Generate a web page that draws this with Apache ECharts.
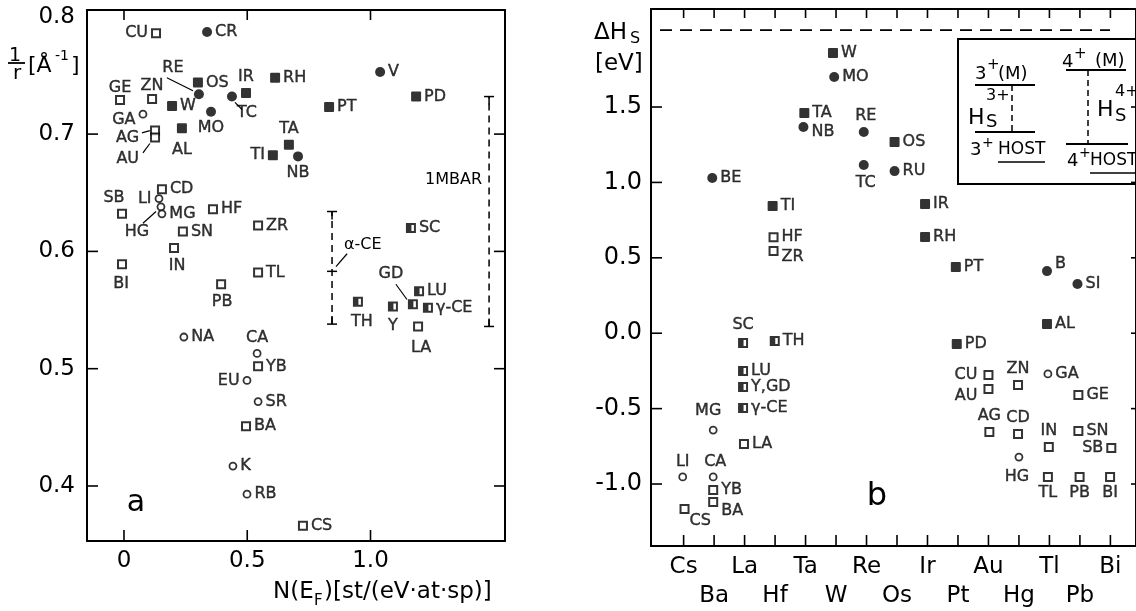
<!DOCTYPE html>
<html>
<head>
<meta charset="utf-8">
<script src="https://cdn.jsdelivr.net/npm/echarts@6.0.0/dist/echarts.min.js"></script>
<style>
  html, body { margin: 0; background: #fff; }
  #main { width: 1136px; height: 611px; }
</style>
</head>
<body>
<div id="main"></div>
<script>
// ---- panel a : 1/r versus N(E_F) ----
const aNames = ['CU','CR','RE','OS','IR','TC','W','MO','AL','GE','ZN','GA','AG','AU','TI','RH','V','PD','PT','TA','NB',
  'CD','LI','HG','MG','SB','HF','SN','ZR','IN','BI','TL','PB','NA','CA','YB','EU','SR','BA','K','RB','CS',
  'SC','GD','LU','γ-CE','Y','TH','LA'];
const aNEF = [0.130,0.337,0.304,0.300,0.495,0.438,0.195,0.353,0.235,-0.016,0.114,0.077,0.126,0.126,0.604,0.613,1.039,1.185,0.832,0.669,0.706,
  0.154,0.142,0.150,0.154,-0.008,0.361,0.239,0.544,0.203,-0.008,0.544,0.394,0.243,0.540,0.544,0.499,0.544,0.495,0.442,0.499,0.726,
  1.164,1.172,1.197,1.233,1.091,0.949,1.193];
const aInvR = [0.786,0.787,0.734,0.744,0.735,0.732,0.724,0.719,0.705,0.729,0.730,0.717,0.703,0.697,0.682,0.748,0.753,0.732,0.723,0.691,0.681,
  0.653,0.645,0.638,0.632,0.632,0.636,0.617,0.622,0.603,0.589,0.582,0.572,0.527,0.513,0.502,0.490,0.472,0.451,0.417,0.393,0.366,
  0.620,0.555,0.566,0.552,0.553,0.557,0.536];
// fs filled square, os open square, fc filled circle, oc open circle, hs half filled square
const aKind = ['os','fc','fc','fs','fs','fc','fs','fc','fs','os','os','oc','os','os','fs','fs','fc','fs','fs','fs','fc',
  'os','oc','oc','oc','os','os','os','os','os','os','os','os','oc','oc','os','oc','oc','os','oc','oc','os',
  'hs','hs','hs','hs','hs','hs','os'];
const aXTicks = [0, 0.5, 1.0];
const aYTicks = [0.4, 0.5, 0.6, 0.7, 0.8];
const aYTickMarks = [0.4, 0.5, 0.6, 0.7];
// pressure ranges (1/r values)
const alphaCeN = 0.844;
const alphaCeRange = [0.538, 0.583, 0.634];
const mbarN = 1.481;
const mbarRange = [0.536, 0.732];

// ---- panel b : ΔH_S by host element ----
const bElements = ['Cs','Ba','La','Hf','Ta','W','Re','Os','Ir','Pt','Au','Hg','Tl','Pb','Bi'];
const bNames = ['W','MO','TA','NB','BE','TI','RE','OS','TC','RU','IR','RH','PT','PD','B','SI','AL',
  'HF','ZR','SC','TH','LU','Y,GD','γ-CE','MG','LA','LI','CA','YB','BA','CS',
  'CU','AU','ZN','GA','GE','AG','CD','HG','IN','SN','SB','TL','PB','BI'];
const bColumn = [4.90,4.94,3.96,3.93,0.94,2.92,5.91,6.92,5.91,6.92,7.92,7.92,8.93,8.96,11.92,12.92,11.92,
  2.95,2.95,1.95,2.99,1.95,1.95,1.95,0.97,1.98,-0.03,0.97,0.97,0.97,0.03,
  10.0,10.0,10.97,11.95,12.95,10.03,10.97,11.0,11.98,12.95,14.03,11.95,12.99,13.99];
const bDH = [1.859,1.699,1.460,1.367,1.029,0.844,1.334,1.268,1.115,1.075,0.857,0.638,0.439,-0.072,0.412,0.326,0.061,
  0.637,0.545,-0.065,-0.052,-0.250,-0.357,-0.496,-0.642,-0.734,-0.953,-0.953,-1.040,-1.119,-1.166,
  -0.277,-0.370,-0.343,-0.270,-0.410,-0.655,-0.668,-0.821,-0.755,-0.648,-0.761,-0.953,-0.953,-0.953];
const bKind = ['fs','fc','fs','fc','fc','fs','fc','fs','fc','fc','fs','fs','fs','fs','fc','fc','fs',
  'os','os','hs','hs','hs','hs','hs','oc','os','oc','oc','os','os','os',
  'os','os','os','oc','os','os','os','oc','os','os','os','os','os','os'];
const bYTicks = [-1.0, -0.5, 0, 0.5, 1.0, 1.5];
const bLimit = 2.01;

// label placement [position, dx, dy]; default is right
const aLabelPos = {
  CU:['left'], RE:['top',-26,-10], IR:['top'], TC:['bottom',15,0], MO:['bottom'], AL:['bottom',0,6],
  GE:['top',0,4], ZN:['top',0,3], GA:['left',0,6], AG:['left',-8,7], AU:['left',-8,21], TI:['left'],
  TA:['top'], NB:['bottom'], LI:['left'], HG:['bottom',-24,10], SB:['top',-8,0], IN:['bottom',3,2],
  BI:['bottom',-1,4], PB:['bottom',1,2], CA:['top'], EU:['left'], GD:['top',-22,-14], Y:['bottom',0,3],
  TH:['bottom',4,4], LA:['bottom',3,5]
};
const bLabelPos = {
  NB:['right',0,5], RE:['top',2,0], TC:['bottom',2,2], ZR:['right',0,6], SC:['top',0,-2], MG:['top',-5,-4],
  LI:['top'], CA:['top',2,0], BA:['right',0,9], CS:['right',-3,12], B:['right',0,-7], CU:['left',-3,0],
  AU:['left',-3,7], ZN:['top'], AG:['top'], CD:['top'], HG:['bottom',-2,4], IN:['top'], SB:['left'],
  TL:['bottom'], PB:['bottom'], BI:['bottom']
};
// leader lines in panel a, data coords [x1,y1,x2,y2]
const aLeaders = [
  [0.174,0.748,0.280,0.737], [0.450,0.727,0.479,0.721], [0.073,0.701,0.105,0.703],
  [0.077,0.684,0.105,0.692], [0.077,0.624,0.130,0.634], [0.905,0.598,0.860,0.587],
  [1.103,0.572,1.148,0.559]
];

const FONT = '"DejaVu Sans", sans-serif';
const INK = '#000';

const kinds = {
  fs: { symbol: 'path://M1,0H9Q10,0 10,1V9Q10,10 9,10H1Q0,10 0,9V1Q0,0 1,0Z', symbolSize: 10, itemStyle: { color: '#000' } },
  os: { symbol: 'rect', symbolSize: 8, itemStyle: { color: '#fff', borderColor: '#000', borderWidth: 2 } },
  fc: { symbol: 'circle', symbolSize: 10, itemStyle: { color: '#000' } },
  oc: { symbol: 'circle', symbolSize: 7, itemStyle: { color: '#fff', borderColor: '#000', borderWidth: 1.8 } },
  hs: { symbol: 'path://M0,0H10V10H0Z M5.5,2V8H8V2Z', symbolSize: 10, itemStyle: { color: '#000' } }
};

function makeSeries(names, xs, ys, kindList, labelPos, axisIdx) {
  const out = [];
  Object.keys(kinds).forEach(k => {
    const data = [];
    names.forEach((n, i) => {
      if (kindList[i] !== k) return;
      const p = labelPos[n] || ['right'];
      data.push({ name: n, value: [xs[i], ys[i]], label: { position: p[0], offset: [p[1] || 0, p[2] || 0] } });
    });
    out.push(Object.assign({
      type: 'scatter', xAxisIndex: axisIdx, yAxisIndex: axisIdx, data: data,
      label: { show: true, formatter: '{b}', color: INK, fontFamily: FONT, fontSize: 16, distance: 3,
        textBorderColor: '#000', textBorderWidth: 0.4 },
      emphasis: { disabled: true }, silent: true
    }, kinds[k]));
  });
  return out;
}

function axis(pos, grid, min, max, labelVals, labelOpt) {
  return {
    type: 'value', position: pos, gridIndex: grid, min: min, max: max,
    splitLine: { show: false },
    axisLine: { show: true, onZero: false, lineStyle: { color: '#000', width: 2 } },
    axisTick: { show: false },
    axisLabel: labelVals ? Object.assign({ show: true, customValues: labelVals, color: INK, fontFamily: FONT, fontSize: 23 }, labelOpt) : { show: false }
  };
}

const aSeries = makeSeries(aNames, aNEF, aInvR, aKind, aLabelPos, 0);
const bSeries = makeSeries(bNames, bColumn, bDH, bKind, bLabelPos, 2);
const colIdx = bElements.map((e, i) => i);

const chart = echarts.init(document.getElementById('main'));
chart.setOption({
  animation: false,
  backgroundColor: '#fff',
  grid: [
    { left: 87, top: 10, width: 418, height: 531 },
    { left: 651, top: 9, width: 490, height: 537 }
  ],
  xAxis: [
    axis('bottom', 0, -0.15, 1.5456, aXTicks, { margin: 9, formatter: v => v === 0 ? '0' : v.toFixed(1) }),
    axis('top', 0, -0.15, 1.5456, null),
    axis('bottom', 1, -1.07, 14.84, colIdx, {
      margin: 7, lineHeight: 29,
      formatter: v => { const i = Math.round(v); return i % 2 ? '\n' + bElements[i] : bElements[i]; }
    }),
    axis('top', 1, -1.07, 14.84, null)
  ],
  yAxis: [
    axis('left', 0, 0.3531, 0.8058, aYTicks, { margin: 12, formatter: v => v.toFixed(1) }),
    axis('right', 0, 0.3531, 0.8058, null),
    axis('left', 1, -1.411, 2.150, bYTicks, { margin: 9, fontSize: 24, formatter: v => v.toFixed(1) }),
    axis('right', 1, -1.411, 2.150, null)
  ],
  series: aSeries.concat(bSeries)
});

// ---- annotations ----
const aRef = 0, bRef = aSeries.length;
const P = (s, x, y) => chart.convertToPixel({ seriesIndex: s }, [x, y]);
const g = [];
function line(x1, y1, x2, y2, w, dash) {
  g.push({ type: 'line', silent: true, shape: { x1, y1, x2, y2 },
    style: { stroke: '#000', lineWidth: w || 1.5, lineDash: dash || null } });
}
function text(t, x, y, size, align) {
  g.push({ type: 'text', silent: true, x: x, y: y,
    style: { text: t, fill: INK, font: size + 'px ' + FONT, align: align || 'left', textAlign: align || 'left',
      verticalAlign: 'middle', textVerticalAlign: 'middle' } });
}

// inward ticks on all four sides of each frame
const aBox = { l: 87, r: 505, t: 10, b: 541 };
const bBox = { l: 651, r: 1141, t: 9, b: 546 };
aXTicks.forEach(v => { const x = P(aRef, v, 0.5)[0]; line(x, aBox.b, x, aBox.b - 11, 1.6); line(x, aBox.t, x, aBox.t + 10, 1.6); });
aYTickMarks.forEach(v => { const y = P(aRef, 0, v)[1]; line(aBox.l, y, aBox.l + 11, y, 1.6); line(aBox.r, y, aBox.r - 11, y, 1.6); });
colIdx.forEach(v => { const x = P(bRef, v, 0)[0]; line(x, bBox.b, x, bBox.b - 11, 1.6); line(x, bBox.t, x, bBox.t + 9, 1.6); });
bYTicks.forEach(v => { const y = P(bRef, 0, v)[1]; line(bBox.l, y, bBox.l + 11, y, 1.6); line(bBox.r, y, bBox.r - 10, y, 1.6); });

function rangeBar(s, x, vals) {
  const lo = P(s, x, vals[0]), hi = P(s, x, vals[vals.length - 1]);
  line(lo[0], lo[1], hi[0], hi[1], 1.5, [7, 5]);
  vals.forEach(v => { const p = P(s, x, v); line(p[0] - 5, p[1], p[0] + 5, p[1], 1.5); });
  line(hi[0], hi[1], hi[0], hi[1] + 8, 1.5);
  line(lo[0], lo[1], lo[0], lo[1] - 8, 1.5);
}
rangeBar(aRef, alphaCeN, alphaCeRange);
rangeBar(aRef, mbarN, mbarRange);
aLeaders.forEach(l => { const p1 = P(aRef, l[0], l[1]), p2 = P(aRef, l[2], l[3]); line(p1[0], p1[1], p2[0], p2[1], 1.2); });
text('α-CE', 344, 245, 16);
text('1MBAR', 482, 180, 16, 'right');
text('a', 136, 503, 30, 'center');

// y axis title of panel a
text('1', 15, 56, 19, 'center');
line(8, 63, 25, 63, 1.8);
text('r', 17, 74, 20, 'center');
text('[Å', 28, 66, 22);
text('-1', 55, 56, 14);
text(']', 71, 66, 22);
// x axis title of panel a
text('N(E', 273, 592, 23);
text('F', 314, 601, 15);
text(')[st/(eV·at·sp)]', 324, 592, 23);

// panel b
const dl = P(bRef, 0, bLimit);
line(660, dl[1], 1110, dl[1], 1.6, [12, 8]);
text('ΔH', 594, 33, 23);
text('S', 630, 39, 16);
text('[eV]', 595, 64, 23);
text('b', 877, 497, 32, 'center');

// inset level scheme
g.push({ type: 'rect', silent: true, shape: { x: 958, y: 39, width: 200, height: 145 },
  style: { fill: 'none', stroke: '#000', lineWidth: 2 } });
text('3', 975, 74, 18); text('+', 987, 65, 15); text('(M)', 998, 74, 18);
line(975, 85, 1035, 85, 2);
line(1012, 85, 1012, 132, 1.5, [6, 4]);
text('H', 968, 118, 22); text('3+', 986, 96, 16); text('S', 986, 122, 18);
line(975, 132, 1035, 132, 2);
text('3', 970, 150, 18); text('+', 982, 143, 14); text('HOST', 998, 150, 17);
line(998, 162, 1045, 162, 1.6);

text('4', 1062, 62, 18); text('+', 1074, 54, 15); text('(M)', 1095, 61, 18);
line(1066, 70, 1126, 70, 2);
line(1088, 70, 1088, 144, 1.5, [6, 4]);
text('H', 1097, 110, 22); text('4+', 1115, 92, 16); text('S', 1115, 116, 18);
line(1066, 144, 1128, 144, 2);
text('4', 1067, 161, 18); text('+', 1079, 153, 14); text('HOST', 1090, 161, 17);
line(1090, 173, 1140, 173, 1.6);

chart.setOption({ graphic: { elements: g } });
</script>
</body>
</html>
